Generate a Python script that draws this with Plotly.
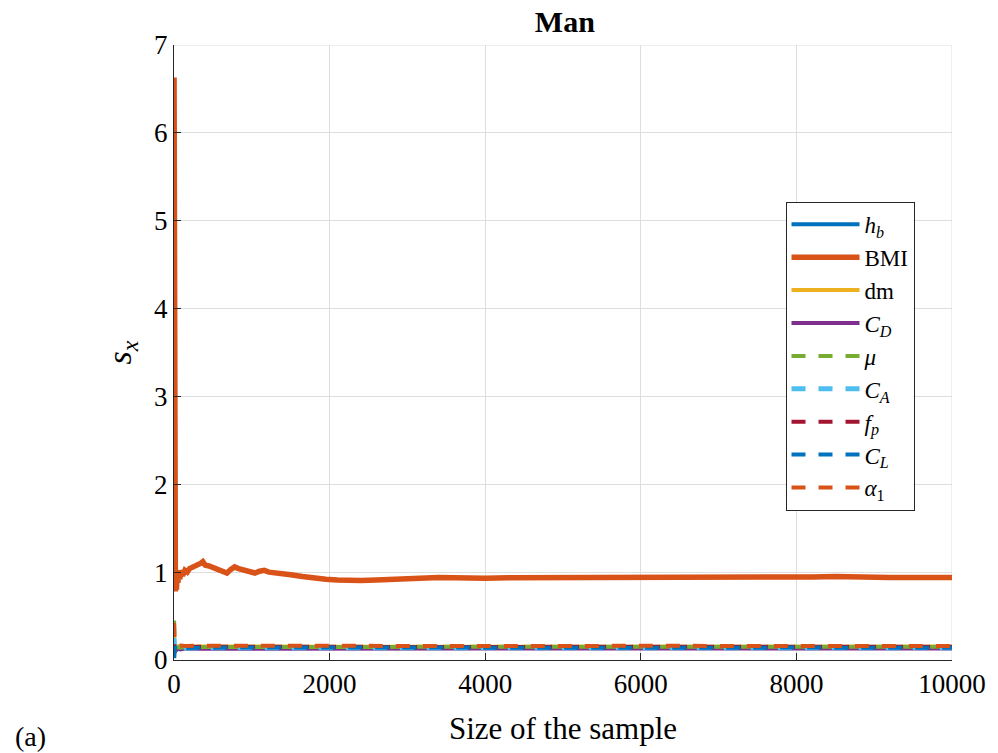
import plotly.graph_objects as go

# Running standard deviation s_x of each input variable versus sample size (Man)
series_names = ["<i>h</i><sub><i>b</i></sub>", "BMI", "dm", "<i>C</i><sub><i>D</i></sub>",
                "<i>μ</i>", "<i>C</i><sub><i>A</i></sub>", "<i>f</i><sub><i>p</i></sub>",
                "<i>C</i><sub><i>L</i></sub>", "<i>α</i><sub>1</sub>"]
series_colors = ["#0072BD", "#D95319", "#EDB120", "#7E2F8E", "#77AC30",
                 "#4DBEEE", "#A2142F", "#0072BD", "#D95319"]
series_dash = ["solid", "solid", "solid", "solid",
               "14px,13px", "14px,13px", "14px,13px", "14px,13px", "14px,13px"]

n_hb = [1, 3, 6, 10, 20, 40, 80, 150, 300, 600, 1000, 2000, 3000, 4000, 5000, 6000, 7000, 8000, 9000, 10000]
s_hb = [0.08, 0.02, 0.18, 0.10, 0.16, 0.12, 0.15, 0.14, 0.145, 0.14, 0.142, 0.14, 0.143, 0.142, 0.143, 0.142, 0.143, 0.143, 0.142, 0.143]

n_bmi = [1, 3, 5, 8, 12, 18, 25, 32, 40, 50, 62, 75, 90, 110, 140, 170, 200, 250, 300, 340,
         370, 400, 450, 500, 560, 620, 680, 730, 780, 830, 900, 970, 1040, 1100, 1160, 1220,
         1350, 1500, 1650, 1800, 1950, 2100, 2250, 2400, 2600, 2800, 3000, 3200, 3400, 3600,
         3800, 4000, 4300, 4600, 5000, 5400, 5800, 6200, 6600, 7000, 7400, 7800, 8200, 8500,
         8800, 9200, 9600, 10000]
s_bmi = [6.63, 4.2, 2.6, 1.6, 1.05, 0.78, 0.95, 0.80, 1.02, 0.88, 0.98, 0.92, 1.02, 0.96, 1.02,
         1.00, 1.04, 1.06, 1.07, 1.10, 1.12, 1.08, 1.07, 1.05, 1.03, 1.01, 0.99, 1.03, 1.06,
         1.04, 1.02, 1.00, 0.99, 1.01, 1.02, 1.00, 0.98, 0.97, 0.95, 0.93, 0.92, 0.91, 0.90,
         0.905, 0.91, 0.92, 0.925, 0.935, 0.94, 0.935, 0.93, 0.93, 0.935, 0.935, 0.94, 0.935,
         0.935, 0.93, 0.935, 0.935, 0.94, 0.94, 0.945, 0.95, 0.94, 0.94, 0.94, 0.94]

n_dm = [1, 3, 6, 10, 20, 40, 80, 150, 300, 1000, 2000, 4000, 6000, 8000, 10000]
s_dm = [0.30, 0.12, 0.22, 0.14, 0.17, 0.15, 0.16, 0.15, 0.155, 0.15, 0.152, 0.15, 0.151, 0.15, 0.151]

n_cd = [1, 3, 6, 10, 20, 40, 80, 150, 300, 1000, 2000, 4000, 6000, 8000, 10000]
s_cd = [0.10, 0.22, 0.08, 0.15, 0.11, 0.14, 0.12, 0.13, 0.128, 0.13, 0.13, 0.131, 0.13, 0.13, 0.13]

n_mu = [1, 3, 6, 10, 20, 40, 80, 150, 300, 1000, 2000, 4000, 6000, 8000, 10000]
s_mu = [0.45, 0.30, 0.20, 0.16, 0.13, 0.15, 0.14, 0.15, 0.148, 0.15, 0.149, 0.15, 0.15, 0.149, 0.15]

n_ca = [1, 3, 6, 10, 20, 40, 80, 150, 300, 1000, 2000, 4000, 6000, 8000, 10000]
s_ca = [0.25, 0.10, 0.21, 0.12, 0.15, 0.13, 0.14, 0.135, 0.14, 0.138, 0.14, 0.139, 0.14, 0.14, 0.14]

n_fp = [1, 3, 6, 10, 20, 40, 80, 150, 300, 1000, 2000, 4000, 6000, 8000, 10000]
s_fp = [0.18, 0.08, 0.16, 0.12, 0.15, 0.14, 0.15, 0.145, 0.15, 0.148, 0.15, 0.149, 0.15, 0.15, 0.15]

n_cl = [1, 3, 6, 10, 20, 40, 80, 150, 300, 1000, 2000, 4000, 6000, 8000, 10000]
s_cl = [0.03, 0.12, 0.07, 0.16, 0.12, 0.145, 0.135, 0.14, 0.14, 0.142, 0.14, 0.141, 0.14, 0.141, 0.14]

n_a1 = [1, 3, 6, 10, 20, 40, 80, 150, 300, 1000, 2000, 4000, 6000, 8000, 10000]
s_a1 = [0.42, 0.26, 0.34, 0.20, 0.17, 0.155, 0.165, 0.16, 0.162, 0.16, 0.161, 0.16, 0.161, 0.16, 0.16]

x_data = [n_hb, n_bmi, n_dm, n_cd, n_mu, n_ca, n_fp, n_cl, n_a1]
y_data = [s_hb, s_bmi, s_dm, s_cd, s_mu, s_ca, s_fp, s_cl, s_a1]
line_widths = [4, 5.5, 4, 4, 4, 5, 4, 4, 4]

x_ticks = [0, 2000, 4000, 6000, 8000, 10000]
y_ticks = [0, 1, 2, 3, 4, 5, 6, 7]

serif = "Liberation Serif"
axis_col = "#262626"
grid_col = "#dedede"

fig = go.Figure()
for name, xs, ys, col, dash, lw in zip(series_names, x_data, y_data, series_colors, series_dash, line_widths):
    fig.add_trace(go.Scatter(x=xs, y=ys, mode="lines", name=name,
                             line=dict(color=col, width=lw, dash=dash)))

fig.update_layout(
    width=998, height=753, autosize=False,
    margin=dict(l=174, r=42, t=45, b=93),
    plot_bgcolor="white", paper_bgcolor="white",
    font=dict(family=serif, color="black", size=27),
    title=dict(text="<b>Man</b>", x=0.566, xanchor="center", y=0.972, yanchor="middle",
               font=dict(family=serif, size=30, color="black")),
    showlegend=True,
    legend=dict(x=0.786, y=0.745, xanchor="left", yanchor="top",
                bgcolor="white", bordercolor=axis_col, borderwidth=1,
                font=dict(family=serif, size=23, color="black"),
                itemwidth=68, tracegroupgap=0),
    xaxis=dict(range=[0, 10000], tickvals=x_ticks, ticktext=[str(v) for v in x_ticks],
               ticks="inside", ticklen=7, tickcolor=axis_col, showline=True, linecolor=axis_col,
               linewidth=1, showgrid=True, gridcolor=grid_col, gridwidth=1, zeroline=False,
               tickfont=dict(family=serif, size=27, color="black"),
               title=dict(text="Size of the sample", font=dict(family=serif, size=31, color="black"),
                          standoff=18)),
    yaxis=dict(range=[0, 7], tickvals=y_ticks, ticktext=[str(v) for v in y_ticks],
               ticks="inside", ticklen=7, tickcolor=axis_col, showline=True, linecolor=axis_col,
               linewidth=1, showgrid=True, gridcolor=grid_col, gridwidth=1, zeroline=False,
               tickfont=dict(family=serif, size=27, color="black"),
               title=dict(text="<i>s</i><sub><i>x</i></sub>", font=dict(family=serif, size=34, color="black"),
                          standoff=12)),
)

# grid lines at the far ends of both axes
fig.add_shape(type="line", xref="x", yref="paper", x0=x_ticks[-1], x1=x_ticks[-1], y0=0, y1=1,
              line=dict(color=grid_col, width=1), layer="below")
fig.add_shape(type="line", xref="paper", yref="y", x0=0, x1=1, y0=y_ticks[-1], y1=y_ticks[-1],
              line=dict(color=grid_col, width=1), layer="below")

fig.add_annotation(text="(a)", xref="paper", yref="paper", x=-0.184, y=-0.124,
                   xanchor="center", yanchor="middle", showarrow=False,
                   font=dict(family=serif, size=28, color="black"))

fig.write_html("out.html")
